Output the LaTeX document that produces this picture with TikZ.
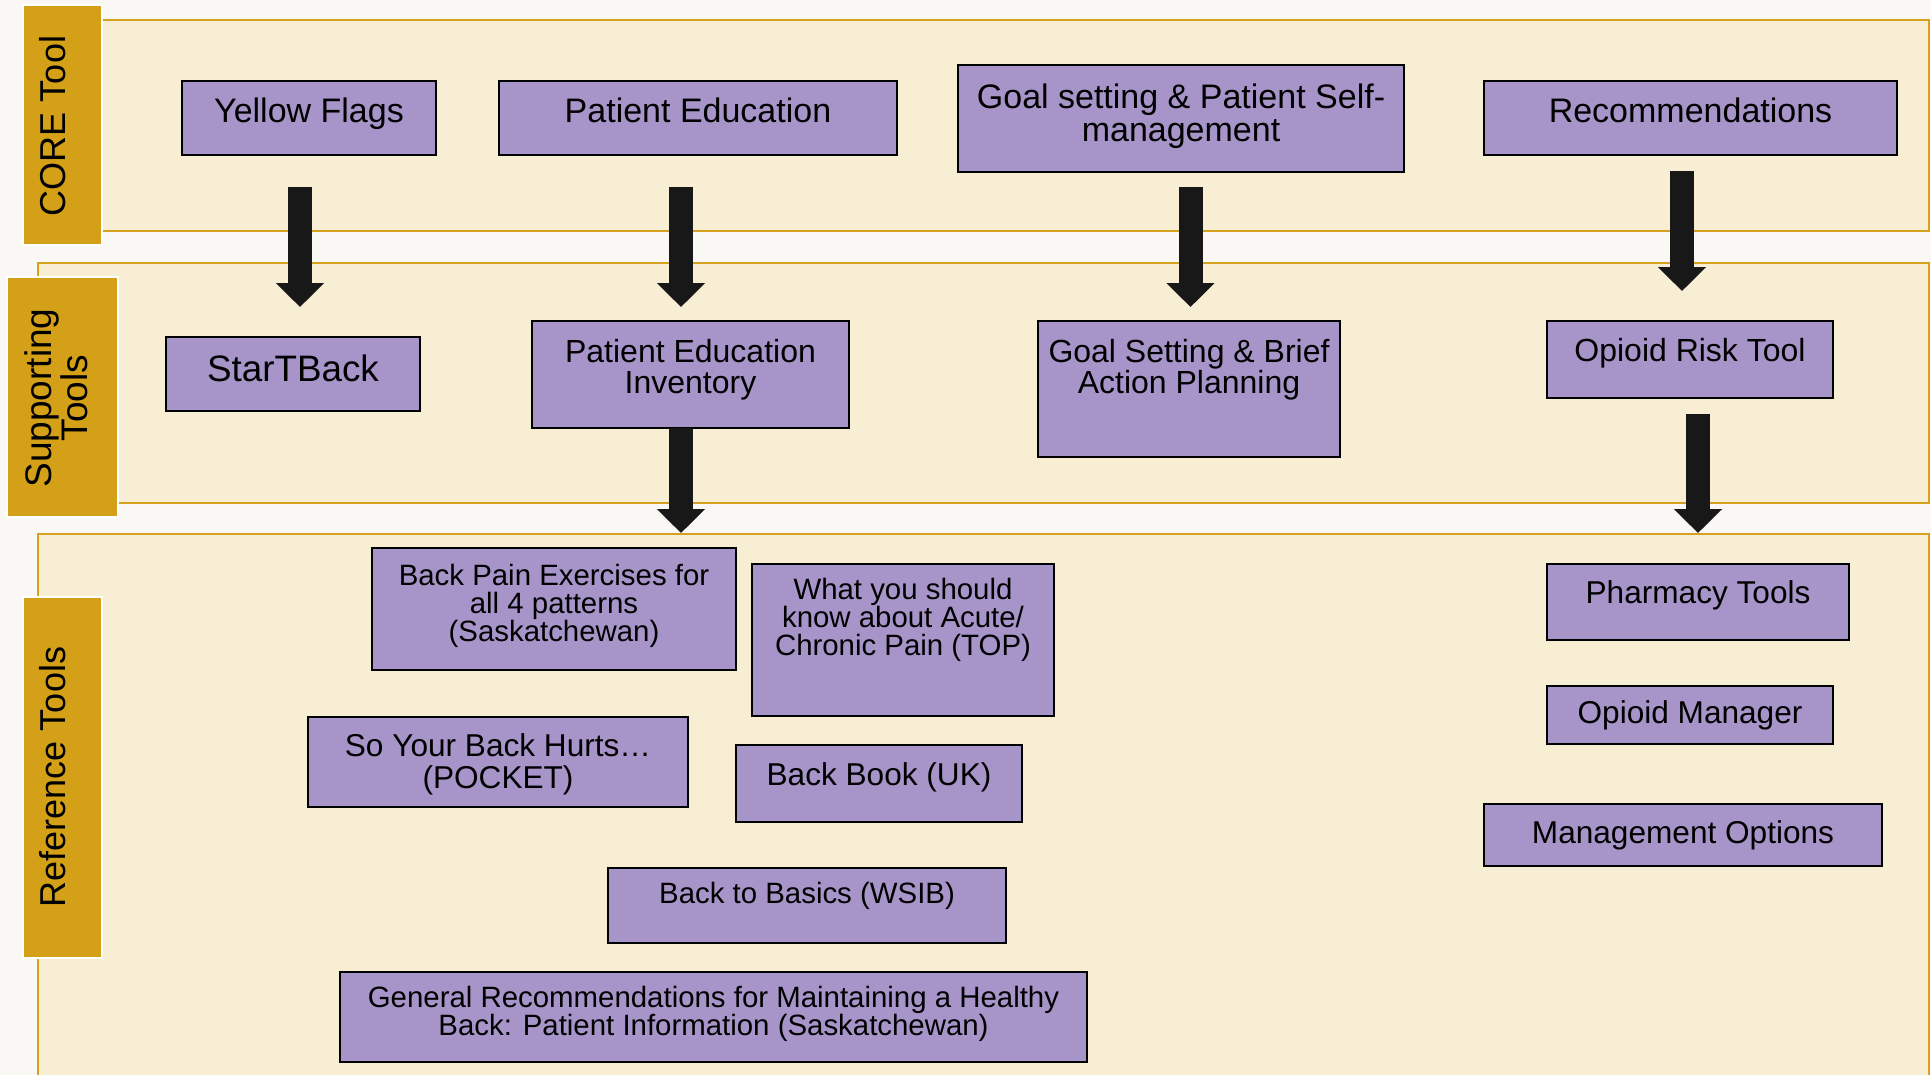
\documentclass[tikz,border=0pt]{standalone}
\usepackage{fontspec}
\setmainfont{Liberation Sans}
\usepackage{tikz}
\usetikzlibrary{arrows.meta,positioning}
\definecolor{pagebg}{RGB}{250,248,245}
\definecolor{bandfill}{RGB}{247,238,212}
\definecolor{bandline}{RGB}{214,161,31}
\definecolor{taggold}{RGB}{212,160,23}
\definecolor{toolfill}{RGB}{167,149,202}
\definecolor{arrowblk}{RGB}{24,24,24}

\begin{document}
\begin{tikzpicture}[x=0.5pt,y=-0.5pt,
  band/.style={fill=bandfill,draw=bandline,line width=0.9pt},
  tag/.style={fill=taggold,draw=white,line width=0.8pt},
  tagtext/.style={rotate=90,align=center,inner sep=0pt,font=\fontsize{18}{18}\selectfont},
  tool/.style={fill=toolfill,draw=black,line width=0.8pt,anchor=north west,inner sep=0pt,outer sep=0pt},
  tooltext/.style={anchor=north,align=center,inner sep=0pt},
  ftop/.style={font=\fontsize{17}{16.5}\selectfont},
  fsup/.style={font=\fontsize{16}{15.5}\selectfont},
  fref/.style={font=\fontsize{15.8}{16}\selectfont},
  fsmall/.style={font=\fontsize{14.7}{14}\selectfont},
  bigarrow/.style={draw=arrowblk,line width=12pt,-{Triangle[length=12pt,width=23.5pt]}}]
  \useasboundingbox (0,0) rectangle (1931,1075);
  \fill[pagebg] (0,0) rectangle (1931,1075);
  \filldraw[band] (60,20) rectangle (1929,231);
  \filldraw[band] (38,263) rectangle (1929,503);
  \filldraw[band] (38,534) rectangle (1929,1090);
  \filldraw[tag] (23,5) rectangle (102,245);
  \filldraw[tag] (7,277) rectangle (118,517);
  \filldraw[tag] (23,597) rectangle (102,958);
  \node[tagtext] (coretag) at (53,126) {CORE Tool};
  \node[tagtext,font=\fontsize{18.5}{18}\selectfont] (suptag) at (56,398) {Supporting\\Tools};
  \node[tagtext] (reftag) at (53,777) {Reference Tools};

  \node[tool,minimum width=127pt,minimum height=37pt] (yf) at (182,81) {};
  \node[tooltext,ftop] (yf-t) at ([yshift=-8pt]yf.north) {Yellow Flags};
  \node[tool,minimum width=199pt,minimum height=37pt] (pe) at (499,81) {};
  \node[tooltext,ftop] (pe-t) at ([yshift=-8pt]pe.north) {Patient Education};
  \node[tool,minimum width=223pt,minimum height=53.5pt] (gs) at (958,65) {};
  \node[tooltext,ftop] (gs-t) at ([yshift=-9pt]gs.north) {Goal setting \& Patient Self-\\management};
  \node[tool,minimum width=206.5pt,minimum height=37pt] (rec) at (1484,81) {};
  \node[tooltext,ftop] (rec-t) at ([yshift=-8pt]rec.north) {Recommendations};

  \node[tool,minimum width=127pt,minimum height=37pt] (stb) at (166,337) {};
  \node[tooltext,font=\fontsize{18.4}{18}\selectfont] (stb-t) at ([yshift=-8.5pt]stb.north) {StarTBack};
  \node[tool,minimum width=158.5pt,minimum height=53.5pt] (pei) at (532,321) {};
  \node[tooltext,fsup] (pei-t) at ([yshift=-9pt]pei.north) {Patient Education\\Inventory};
  \node[tool,minimum width=151pt,minimum height=68pt] (gsb) at (1038,321) {};
  \node[tooltext,fsup] (gsb-t) at ([yshift=-9pt]gsb.north) {Goal Setting \& Brief\\Action Planning};
  \node[tool,minimum width=143pt,minimum height=38.5pt] (ort) at (1547,321) {};
  \node[tooltext,fsup] (ort-t) at ([yshift=-8.5pt]ort.north) {Opioid Risk Tool};

  \node[tool,minimum width=182pt,minimum height=61pt] (bpe) at (372,548) {};
  \node[tooltext,fsmall] (bpe-t) at ([yshift=-8pt]bpe.north) {Back Pain Exercises for\\all 4 patterns\\(Saskatchewan)};
  \node[tool,minimum width=151pt,minimum height=76pt] (wys) at (752,564) {};
  \node[tooltext,fsmall] (wys-t) at ([yshift=-7pt]wys.north) {What you should\\know about Acute/\\Chronic Pain (TOP)};
  \node[tool,minimum width=190pt,minimum height=45pt] (syb) at (308,717) {};
  \node[tooltext,fref] (syb-t) at ([yshift=-8pt]syb.north) {So Your Back Hurts…\\(POCKET)};
  \node[tool,minimum width=143pt,minimum height=38.5pt] (bb) at (736,745) {};
  \node[tooltext,fref] (bb-t) at ([yshift=-8.5pt]bb.north) {Back Book (UK)};
  \node[tool,minimum width=199pt,minimum height=37.5pt] (btb) at (608,868) {};
  \node[tooltext,fsmall] (btb-t) at ([yshift=-7pt]btb.north) {Back to Basics (WSIB)};
  \node[tool,minimum width=373.5pt,minimum height=45pt] (gr) at (340,972) {};
  \node[tooltext,fsmall] (gr-t) at ([yshift=-7pt]gr.north) {General Recommendations for Maintaining a Healthy\\Back: Patient Information (Saskatchewan)};
  \node[tool,minimum width=151pt,minimum height=38pt] (pt) at (1547,564) {};
  \node[tooltext,fref] (pt-t) at ([yshift=-8pt]pt.north) {Pharmacy Tools};
  \node[tool,minimum width=143pt,minimum height=29pt] (om) at (1547,686) {};
  \node[tooltext,fref] (om-t) at ([yshift=-7pt]om.north) {Opioid Manager};
  \node[tool,minimum width=199pt,minimum height=31pt] (mo) at (1484,804) {};
  \node[tooltext,fref] (mo-t) at ([yshift=-8pt]mo.north) {Management Options};

  \coordinate (pedrop) at (681,533);
  \draw[bigarrow] ([xshift=-4.5pt,yshift=-16pt]yf.south) -- ([xshift=3.5pt,yshift=15pt]stb.north);
  \draw[bigarrow] ([xshift=-8.5pt,yshift=-16pt]pe.south) -- ([xshift=-4.75pt,yshift=7pt]pei.north);
  \draw[bigarrow] ([xshift=4.75pt,yshift=-7.5pt]gs.south) -- ([xshift=0.75pt,yshift=7pt]gsb.north);
  \draw[bigarrow] ([xshift=-4.25pt,yshift=-8.25pt]rec.south) -- ([xshift=-4pt,yshift=15pt]ort.north);
  \draw[bigarrow] ([xshift=-4.75pt]pei.south) -- (pedrop);
  \draw[bigarrow] ([xshift=4pt,yshift=-7.75pt]ort.south) -- ([yshift=15.5pt]pt.north);
\end{tikzpicture}
\end{document}
